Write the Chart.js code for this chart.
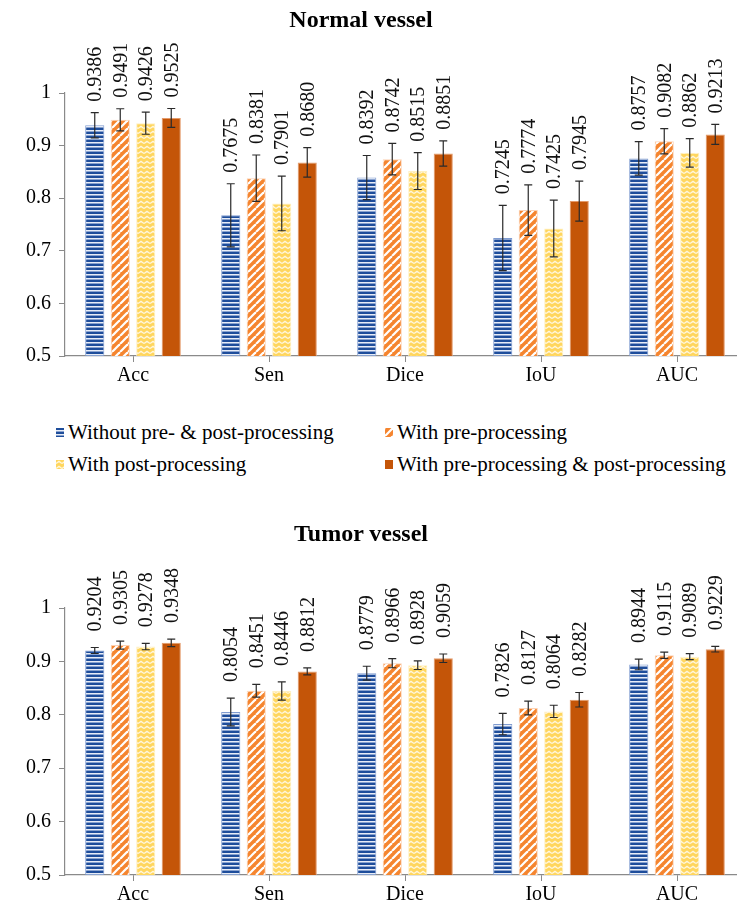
<!DOCTYPE html>
<html><head><meta charset="utf-8">
<script src="https://cdn.jsdelivr.net/npm/chart.js@4.4.1/dist/chart.umd.min.js"></script>
<style>
html,body{margin:0;padding:0;background:#fff;overflow:hidden;width:737px;height:911px;position:relative;}
.wrap{position:absolute;left:0;}
.title{position:absolute;left:0;width:722px;text-align:center;font-family:"Liberation Serif","DejaVu Serif",serif;font-weight:bold;font-size:24px;line-height:28px;color:#000;}
#legend{position:absolute;left:0;top:0;width:737px;font-family:"Liberation Serif","DejaVu Serif",serif;font-size:21px;color:#000;}
.item{position:absolute;display:flex;align-items:center;white-space:nowrap;height:26px;line-height:26px;}
.item canvas{margin-right:4px;display:block;}
</style></head><body>
<div class="wrap" style="top:0"><canvas id="c1" width="760" height="400"></canvas></div>
<div class="wrap" style="top:515px"><canvas id="c2" width="760" height="396"></canvas></div>
<div class="title" style="top:5px">Normal vessel</div>
<div class="title" style="top:519px">Tumor vessel</div>
<div id="legend"></div>
<script>
// ---------- data ----------
const categories = ['Acc', 'Sen', 'Dice', 'IoU', 'AUC'];
const seriesNames = ['Without pre- & post-processing', 'With pre-processing', 'With post-processing', 'With pre-processing & post-processing'];
const yTicks = [0.5, 0.6, 0.7, 0.8, 0.9, 1];
const yTickLabels = ['0.5', '0.6', '0.7', '0.8', '0.9', '1'];

// Normal vessel
const normalWithout = [0.9386, 0.7675, 0.8392, 0.7245, 0.8757];
const normalPre     = [0.9491, 0.8381, 0.8742, 0.7774, 0.9082];
const normalPost    = [0.9426, 0.7901, 0.8515, 0.7425, 0.8862];
const normalBoth    = [0.9525, 0.8680, 0.8851, 0.7945, 0.9213];
const normalWithoutErr = [0.024, 0.060, 0.042, 0.062, 0.032];
const normalPreErr     = [0.021, 0.044, 0.030, 0.048, 0.024];
const normalPostErr    = [0.021, 0.052, 0.035, 0.054, 0.027];
const normalBothErr    = [0.018, 0.028, 0.024, 0.038, 0.019];

// Tumor vessel
const tumorWithout = [0.9204, 0.8054, 0.8779, 0.7826, 0.8944];
const tumorPre     = [0.9305, 0.8451, 0.8966, 0.8127, 0.9115];
const tumorPost    = [0.9278, 0.8446, 0.8928, 0.8064, 0.9089];
const tumorBoth    = [0.9348, 0.8812, 0.9059, 0.8282, 0.9229];
const tumorWithoutErr = [0.0056, 0.026, 0.013, 0.020, 0.010];
const tumorPreErr     = [0.0075, 0.012, 0.0085, 0.013, 0.006];
const tumorPostErr    = [0.006, 0.017, 0.008, 0.0115, 0.0056];
const tumorBothErr    = [0.007, 0.0065, 0.008, 0.0136, 0.0053];

// ---------- styles ----------
const FONT = "'Liberation Serif', 'DejaVu Serif', serif";
const BLUE = '#1E4D9B', ORANGE = '#F5852F', YELLOW = '#FFD65E', DARK = '#C45508';

function tile(w, h, draw) {
  const c = document.createElement('canvas');
  c.width = w; c.height = h;
  const g = c.getContext('2d');
  draw(g, w, h);
  return c;
}
const tiles = [
  tile(4, 4, (g) => {
    g.fillStyle = BLUE; g.fillRect(0, 0, 4, 4);
    g.fillStyle = '#e8edf7'; g.fillRect(0, 2, 4, 1);
    g.fillStyle = '#8aa3cf'; g.fillRect(0, 3, 4, 1);
  }),
  tile(8, 8, (g) => {
    g.fillStyle = ORANGE; g.fillRect(0, 0, 8, 8);
    g.strokeStyle = '#ffffff'; g.lineWidth = 2.2;
    for (const o of [-8, 0, 8]) { g.beginPath(); g.moveTo(o, 8); g.lineTo(o + 8, 0); g.stroke(); }
  }),
  tile(6, 5, (g) => {
    g.fillStyle = YELLOW; g.fillRect(0, 0, 6, 5);
    g.strokeStyle = '#fff6dc'; g.lineWidth = 1.3;
    g.beginPath(); g.moveTo(0, 3.6); g.lineTo(3, 1.4); g.lineTo(6, 3.6); g.stroke();
  }),
  tile(4, 4, (g) => { g.fillStyle = DARK; g.fillRect(0, 0, 4, 4); })
];
const ctxTmp = document.createElement('canvas').getContext('2d');
const patterns = tiles.map(t => ctxTmp.createPattern(t, 'repeat'));
const borders = ['#7f9bd0', '#fcd2b4', '#fff0c2', '#e49a6a'];

// ---------- error bars + value labels plugin ----------
const errorBarPlugin = {
  id: 'errorBars',
  afterDatasetsDraw(chart, args, opts) {
    const ctx = chart.ctx;
    const y = chart.scales.y;
    chart.data.datasets.forEach((ds, i) => {
      const meta = chart.getDatasetMeta(i);
      meta.data.forEach((bar, j) => {
        const v = ds.data[j], e = ds.errors[j];
        const yTop = y.getPixelForValue(v + e), yBot = y.getPixelForValue(v - e);
        const x = bar.x;
        ctx.save();
        ctx.strokeStyle = '#2a2a2a'; ctx.lineWidth = 1.2;
        ctx.beginPath();
        ctx.moveTo(x, yTop); ctx.lineTo(x, yBot);
        ctx.moveTo(x - 4, yTop); ctx.lineTo(x + 4, yTop);
        ctx.moveTo(x - 4, yBot); ctx.lineTo(x + 4, yBot);
        ctx.stroke();
        ctx.translate(x + 1, yTop - opts.gap);
        ctx.rotate(-Math.PI / 2);
        ctx.fillStyle = '#111';
        ctx.font = '20px ' + FONT;
        ctx.textAlign = 'left';
        ctx.textBaseline = 'middle';
        ctx.fillText(v.toFixed(4), 0, 0);
        ctx.restore();
      });
    });
  }
};

function makeChart(id, seriesData, seriesErr, o) {
  return new Chart(document.getElementById(id), {
    type: 'bar',
    data: {
      labels: categories,
      datasets: seriesData.map((d, i) => ({
        label: seriesNames[i], data: d, errors: seriesErr[i],
        backgroundColor: patterns[i], borderColor: borders[i], borderWidth: 1,
        categoryPercentage: 0.75, barPercentage: 0.75
      }))
    },
    options: {
      responsive: false, animation: false, devicePixelRatio: 1,
      layout: { padding: { left: 18, right: 15, top: 93, bottom: o.padBottom } },
      plugins: { legend: { display: false }, tooltip: { enabled: false }, title: { display: false },
                 errorBars: { gap: o.gap } },
      scales: {
        x: {
          grid: { display: true, drawOnChartArea: false, offset: false, tickLength: 6, color: '#8a8a8a' },
          border: { display: true, color: '#8a8a8a', width: 1.2 },
          ticks: { font: { family: FONT, size: 20 }, color: '#000', padding: 2 }
        },
        y: {
          min: 0.5, max: 1,
          afterBuildTicks: (ax) => { ax.ticks = yTicks.map(v => ({ value: v })); },
          grid: { display: true, drawOnChartArea: false, tickLength: 6, color: '#8a8a8a' },
          border: { display: true, color: '#8a8a8a', width: 1.2 },
          ticks: { font: { family: FONT, size: 20 }, color: '#000', padding: 8,
                   callback: (v, i) => yTickLabels[i] }
        }
      }
    },
    plugins: [errorBarPlugin]
  });
}

const charts = [
  makeChart('c1', [normalWithout, normalPre, normalPost, normalBoth],
            [normalWithoutErr, normalPreErr, normalPostErr, normalBothErr], { padBottom: 10, gap: 11 }),
  makeChart('c2', [tumorWithout, tumorPre, tumorPost, tumorBoth],
            [tumorWithoutErr, tumorPreErr, tumorPostErr, tumorBothErr], { padBottom: 2, gap: 16 })
];
if (document.fonts) {
  document.fonts.load("20px 'Liberation Serif'").then(() => charts.forEach(c => c.update('none')));
}

// ---------- legend ----------
const legendPos = [[56, 419], [385, 419], [56, 451], [385, 451]];
const legend = document.getElementById('legend');
seriesNames.forEach((name, i) => {
  const it = document.createElement('div');
  it.className = 'item';
  it.style.left = legendPos[i][0] + 'px';
  it.style.top = legendPos[i][1] + 'px';
  const m = document.createElement('canvas');
  m.width = 8; m.height = 9;
  const g = m.getContext('2d');
  g.fillStyle = g.createPattern(tiles[i], 'repeat');
  g.fillRect(0, 0, 8, 9);
  it.appendChild(m);
  const s = document.createElement('span');
  s.textContent = name;
  it.appendChild(s);
  legend.appendChild(it);
});
</script>
</body></html>
